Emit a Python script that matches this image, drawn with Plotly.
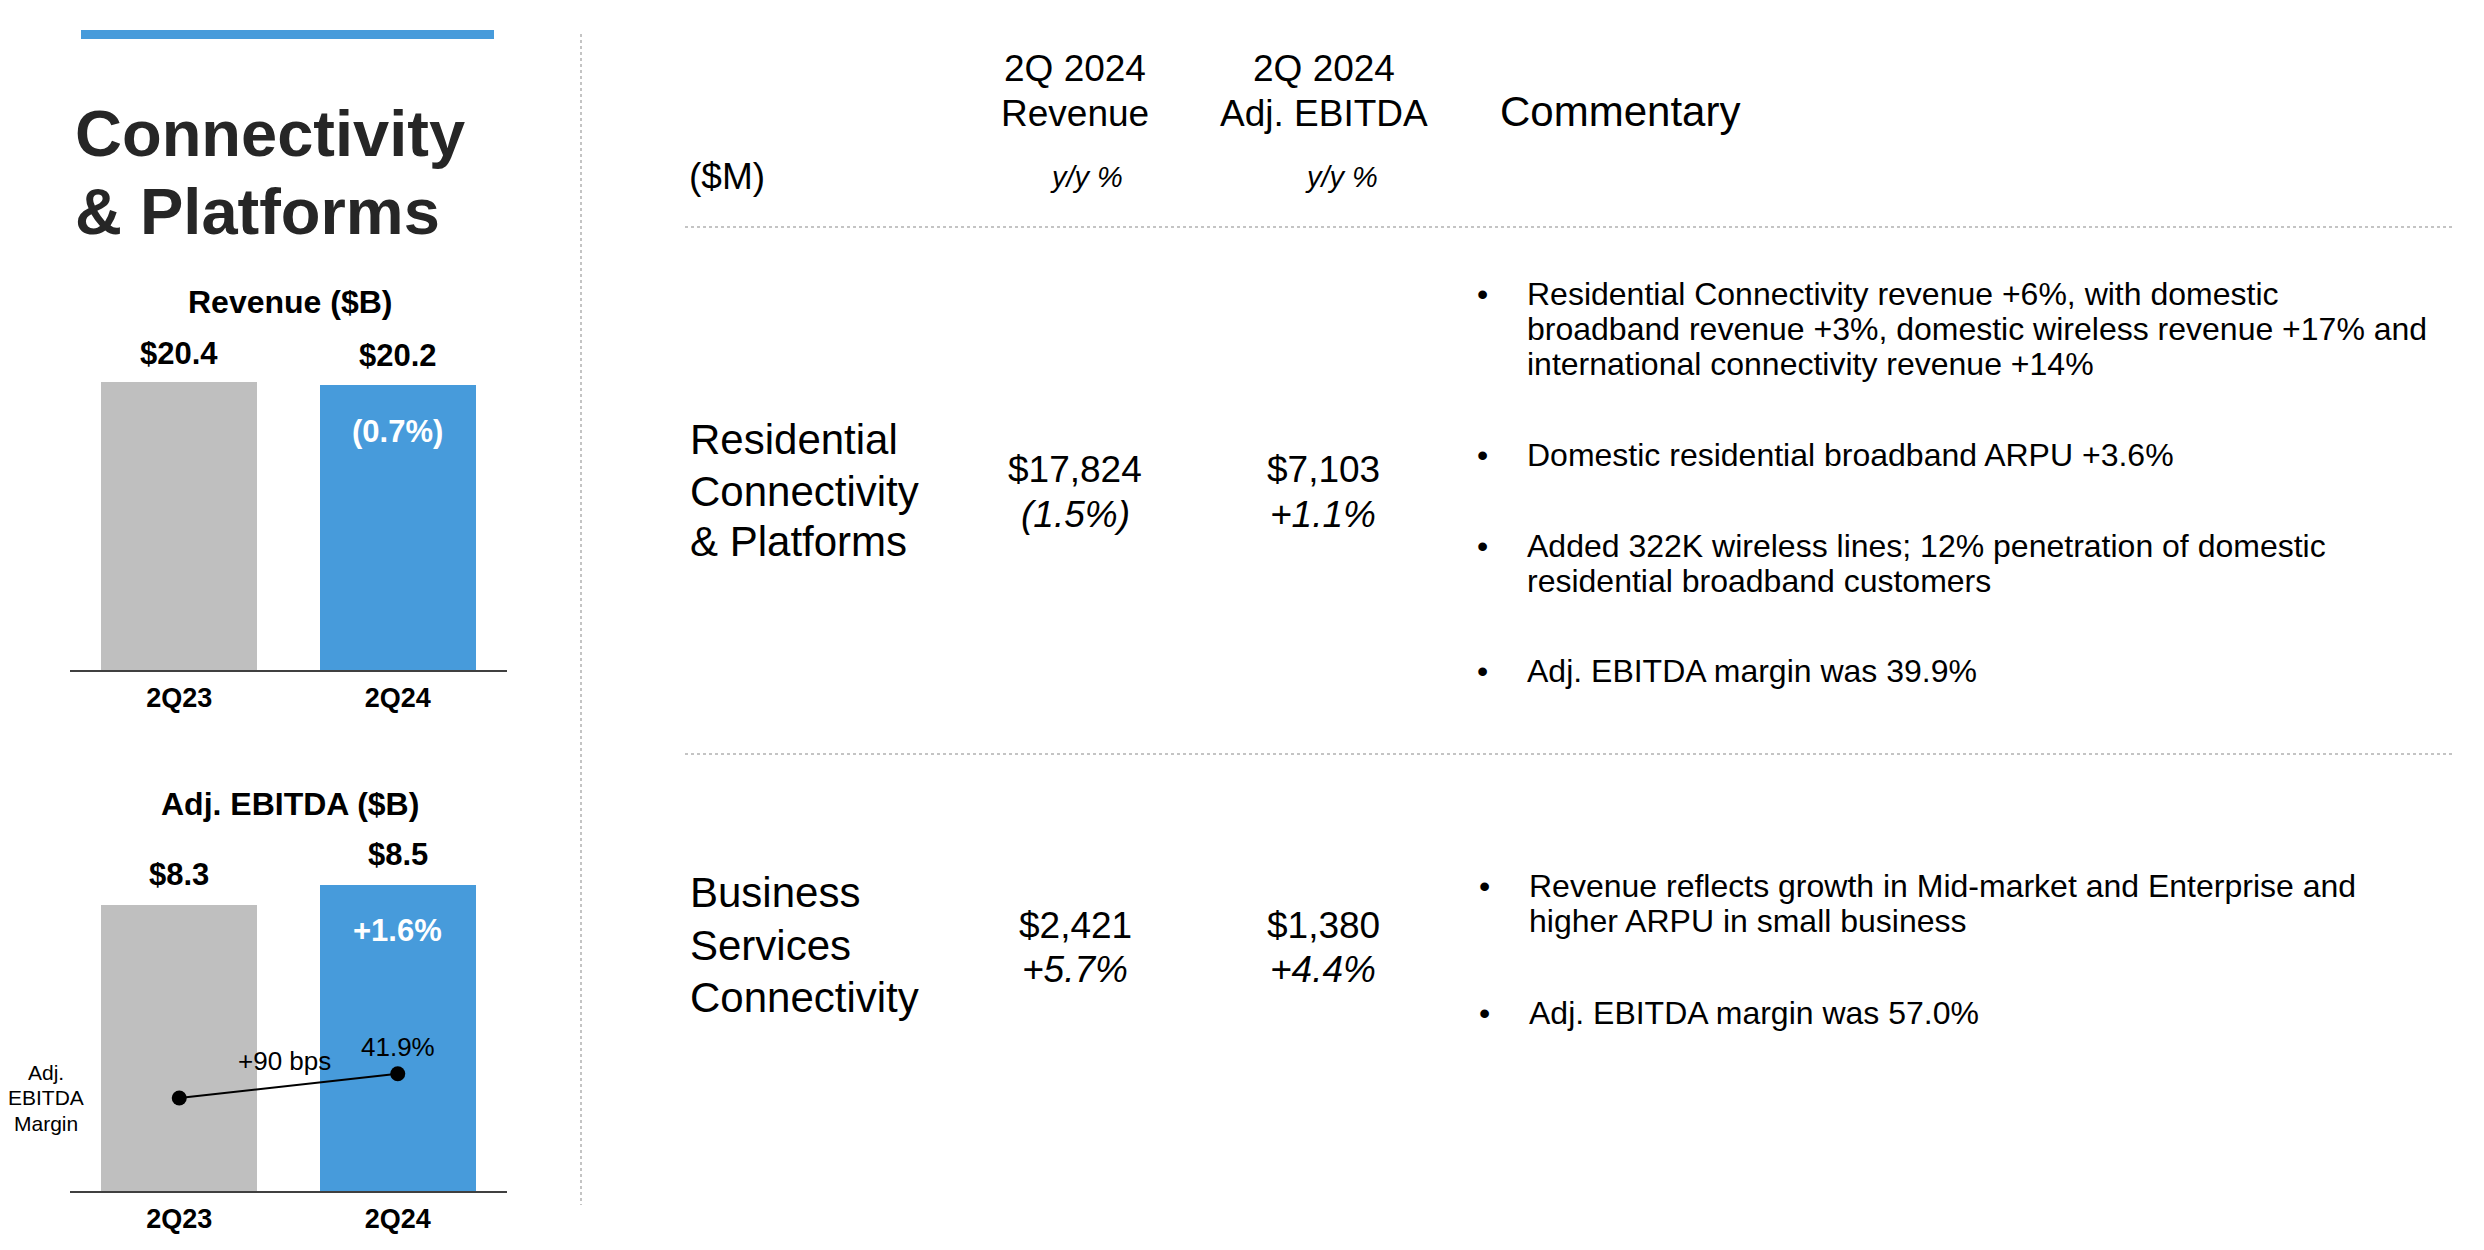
import plotly.graph_objects as go

# ---------------- data ----------------
quarters = ["2Q23", "2Q24"]
revenue_b = [20.4, 20.2]
revenue_labels = ["$20.4", "$20.2"]
revenue_growth = "(0.7%)"
ebitda_b = [8.3, 8.5]
ebitda_labels = ["$8.3", "$8.5"]
ebitda_growth = "+1.6%"
margin_pct = [41.0, 41.9]
margin_label = "41.9%"
margin_change = "+90 bps"

title_lines = ["Connectivity", "& Platforms"]
header_rev = ["2Q 2024", "Revenue"]
header_ebitda = ["2Q 2024", "Adj. EBITDA"]
header_comment = "Commentary"
unit_label = "($M)"
yy_label = "y/y %"

segments = [["Residential", "Connectivity", "& Platforms"],
            ["Business", "Services", "Connectivity"]]
seg_revenue = ["$17,824", "$2,421"]
seg_revenue_yy = ["(1.5%)", "+5.7%"]
seg_ebitda = ["$7,103", "$1,380"]
seg_ebitda_yy = ["+1.1%", "+4.4%"]

commentary_res = [
    ["Residential Connectivity revenue +6%, with domestic",
     "broadband revenue +3%, domestic wireless revenue +17% and",
     "international connectivity revenue +14%"],
    ["Domestic residential broadband ARPU +3.6%"],
    ["Added 322K wireless lines; 12% penetration of domestic",
     "residential broadband customers"],
    ["Adj. EBITDA margin was 39.9%"],
]
commentary_bus = [
    ["Revenue reflects growth in Mid-market and Enterprise and",
     "higher ARPU in small business"],
    ["Adj. EBITDA margin was 57.0%"],
]

# ---------------- layout helpers ----------------
W, H = 2484, 1250
FONT = "Liberation Sans, Arial, Helvetica, sans-serif"
BLUE = "#479BDB"
GRAY = "#BFBFBF"
DOT = "#C4C4C4"
DESC = 0.212  # font descent ratio


def px(x):
    return x / W


def py(y):
    return 1 - y / H


annotations = []


def text(s, x, base, size, anchor="left", bold=False, italic=False, color="#000000"):
    annotations.append(dict(
        text=s, x=px(x), y=py(base + DESC * size), xref="paper", yref="paper",
        xanchor=anchor, yanchor="bottom", showarrow=False, borderpad=0,
        font=dict(family=FONT, size=size, color=color,
                  weight="bold" if bold else "normal",
                  style="italic" if italic else "normal"),
    ))


# chart geometry (pixels)
AX_L, AX_R = 70, 507
REV_BASE, REV_PX_PER = 670, 288 / 20.4
REV_TOP = 300
EB_BASE, EB_TOP = 1191, 850
EB_PX_PER = 100.0
EB_MIN = 8.3 - 286 / EB_PX_PER
M_PX_PER = 27.0
M_REF_Y = 1098

rev_range = [0, (REV_BASE - REV_TOP) / REV_PX_PER]
eb_range = [EB_MIN, EB_MIN + (EB_BASE - EB_TOP) / EB_PX_PER]
m_range = [margin_pct[0] - (EB_BASE - M_REF_Y) / M_PX_PER,
           margin_pct[0] + (M_REF_Y - EB_TOP) / M_PX_PER]

fig = go.Figure()
fig.add_trace(go.Bar(x=quarters, y=revenue_b, marker=dict(color=[GRAY, BLUE], line=dict(width=0)),
                     width=0.716, xaxis="x", yaxis="y", hoverinfo="skip"))
fig.add_trace(go.Bar(x=quarters, y=ebitda_b, marker=dict(color=[GRAY, BLUE], line=dict(width=0)),
                     width=0.716, xaxis="x2", yaxis="y2", hoverinfo="skip"))
fig.add_trace(go.Scatter(x=quarters, y=margin_pct, mode="lines+markers",
                         line=dict(color="#000000", width=2),
                         marker=dict(color="#000000", size=15),
                         xaxis="x2", yaxis="y3", hoverinfo="skip"))

tickfont = dict(family=FONT, size=27, color="#000000", weight="bold")
xcommon = dict(type="category", range=[-0.5, 1.5], domain=[px(AX_L), px(AX_R)],
               showline=True, linecolor="#404040", linewidth=2, ticks="",
               showgrid=False, zeroline=False, tickfont=tickfont, ticklabelstandoff=3,
               fixedrange=True)
fig.update_layout(
    xaxis=dict(anchor="y", **xcommon),
    yaxis=dict(domain=[py(REV_BASE), py(REV_TOP)], range=rev_range, visible=False),
    xaxis2=dict(anchor="y2", **xcommon),
    yaxis2=dict(domain=[py(EB_BASE), py(EB_TOP)], range=eb_range, visible=False),
    yaxis3=dict(overlaying="y2", range=m_range, visible=False),
)

# bar value labels (anchored to data)
for q, v, lab in zip(quarters, revenue_b, revenue_labels):
    annotations.append(dict(text=lab, x=q, y=v, xref="x", yref="y", xanchor="center",
                            yanchor="bottom", yshift=17 - DESC * 31, showarrow=False, borderpad=0,
                            font=dict(family=FONT, size=31, color="#000000", weight="bold")))
annotations.append(dict(text=revenue_growth, x=quarters[1], y=revenue_b[1], xref="x", yref="y",
                        xanchor="center", yanchor="bottom", yshift=-(59 + DESC * 31),
                        showarrow=False, borderpad=0,
                        font=dict(family=FONT, size=31, color="#FFFFFF", weight="bold")))
for q, v, lab in zip(quarters, ebitda_b, ebitda_labels):
    annotations.append(dict(text=lab, x=q, y=v, xref="x2", yref="y2", xanchor="center",
                            yanchor="bottom", yshift=19 - DESC * 31, showarrow=False, borderpad=0,
                            font=dict(family=FONT, size=31, color="#000000", weight="bold")))
annotations.append(dict(text=ebitda_growth, x=quarters[1], y=ebitda_b[1], xref="x2", yref="y2",
                        xanchor="center", yanchor="bottom", yshift=-(57 + DESC * 31),
                        showarrow=False, borderpad=0,
                        font=dict(family=FONT, size=31, color="#FFFFFF", weight="bold")))
annotations.append(dict(text=margin_label, x=quarters[1], y=margin_pct[1], xref="x2", yref="y3",
                        xanchor="center", yanchor="bottom", yshift=16 - DESC * 26,
                        showarrow=False, borderpad=0,
                        font=dict(family=FONT, size=26, color="#000000")))
text(margin_change, 284, 1071, 26, anchor="center")
for s, b in zip(["Adj.", "EBITDA", "Margin"], [1081, 1106, 1132]):
    text(s, 46, b, 21, anchor="center")

# left titles
text(title_lines[0], 74, 157, 65, bold=True, color="#262626")
text(title_lines[1], 74, 235, 65, bold=True, color="#262626")
text("Revenue ($B)", 290, 314, 32, anchor="center", bold=True)
text("Adj. EBITDA ($B)", 290, 816, 32, anchor="center", bold=True)

# right-hand table headers
text(header_rev[0], 1075, 82, 37, anchor="center")
text(header_rev[1], 1075, 127, 37, anchor="center")
text(header_ebitda[0], 1324, 82, 37, anchor="center")
text(header_ebitda[1], 1324, 127, 37, anchor="center")
text(header_comment, 1499, 127, 42)
text(unit_label, 688, 190, 37)
text(yy_label, 1086, 188, 29, anchor="center", italic=True)
text(yy_label, 1341, 188, 29, anchor="center", italic=True)

# segment rows
row_label_bases = [[455, 507, 557], [908, 961, 1013]]
row_value_bases = [[483, 528], [939, 983]]
for i in range(2):
    for s, b in zip(segments[i], row_label_bases[i]):
        text(s, 689, b, 42)
    text(seg_revenue[i], 1075, row_value_bases[i][0], 37, anchor="center")
    text(seg_revenue_yy[i], 1075, row_value_bases[i][1], 37, anchor="center", italic=True)
    text(seg_ebitda[i], 1323, row_value_bases[i][0], 37, anchor="center")
    text(seg_ebitda_yy[i], 1323, row_value_bases[i][1], 37, anchor="center", italic=True)

# commentary bullets
res_bases = [[306, 341, 376], [467], [558, 593], [683]]
bus_bases = [[898, 933], [1025]]
for items, bases, bx, tx in [(commentary_res, res_bases, 1482, 1526),
                             (commentary_bus, bus_bases, 1484, 1528)]:
    for lines, bl in zip(items, bases):
        text("\u2022", bx, bl[0], 32, anchor="center")
        for s, b in zip(lines, bl):
            text(s, tx, b, 32)

shapes = [
    dict(type="rect", xref="paper", yref="paper", x0=px(81), x1=px(494), y0=py(39), y1=py(30),
         fillcolor=BLUE, line=dict(width=0)),
    dict(type="line", xref="paper", yref="paper", x0=px(581), x1=px(581), y0=py(34), y1=py(1205),
         line=dict(color=DOT, width=2, dash="dot")),
    dict(type="line", xref="paper", yref="paper", x0=px(685), x1=px(2452), y0=py(227), y1=py(227),
         line=dict(color=DOT, width=2, dash="dot")),
    dict(type="line", xref="paper", yref="paper", x0=px(685), x1=px(2452), y0=py(754), y1=py(754),
         line=dict(color=DOT, width=2, dash="dot")),
]

fig.update_layout(
    width=W, height=H, margin=dict(l=0, r=0, t=0, b=0),
    paper_bgcolor="#FFFFFF", plot_bgcolor="rgba(0,0,0,0)",
    showlegend=False, bargap=0, annotations=annotations, shapes=shapes,
    font=dict(family=FONT),
)
fig.write_html("out.html", config={"displayModeBar": False},
               post_script="document.body.style.margin='0px';document.body.style.overflow='hidden';")
